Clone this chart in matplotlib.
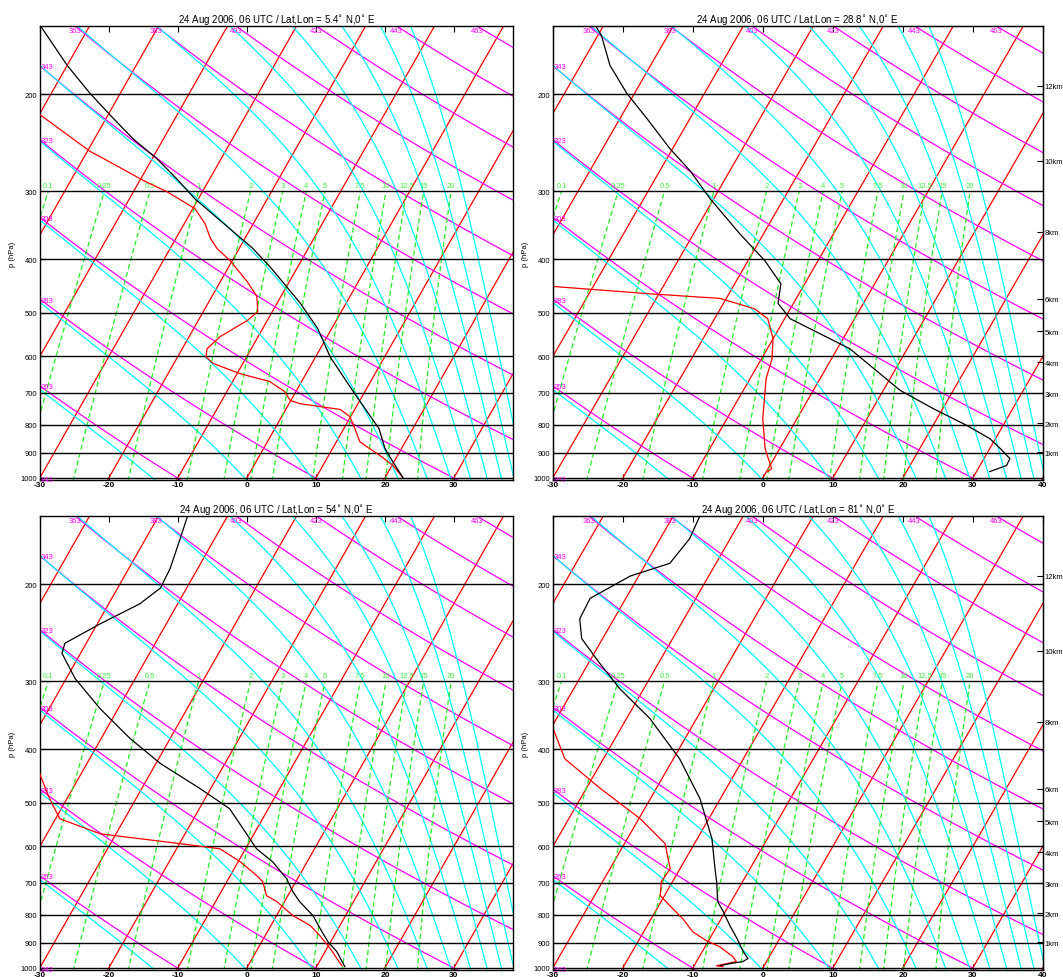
import numpy as np
import matplotlib.pyplot as plt
from matplotlib.ticker import NullLocator

plt.rcParams['font.family'] = 'Liberation Sans'

SKEW = 19.6          # horizontal shift (deg C) per unit of ln(1000/p)
P_TOP, P_BOT = 150.0, 1010.0

titles = ['24 Aug 2006, 06 UTC / Lat,Lon = 5.4$^{\\circ}$ N,0$^{\\circ}$ E',
          '24 Aug 2006, 06 UTC / Lat,Lon = 28.8$^{\\circ}$ N,0$^{\\circ}$ E',
          '24 Aug 2006, 06 UTC / Lat,Lon = 54$^{\\circ}$ N,0$^{\\circ}$ E',
          '24 Aug 2006, 06 UTC / Lat,Lon = 81$^{\\circ}$ N,0$^{\\circ}$ E']

pres_ticks = [200, 300, 400, 500, 600, 700, 800, 900, 1000]
isotherms = np.arange(-80, 50, 10)
theta_dry = [243, 263, 283, 303, 323, 343, 363, 383, 403, 423, 443, 463]
theta_e = [243, 263, 283, 303, 323, 343, 363, 383, 403, 423, 443, 463, 483]
mix_ratio = [0.1, 0.25, 0.5, 1, 2, 3, 4, 5, 7.5, 10, 12.5, 15, 20]
mix_labels = ['0.1', '0.25', '0.5', '1', '2', '3', '4', '5', '7.5', '10', '12.5', '15', '20']
height_km = [1, 2, 3, 4, 5, 6, 8, 10, 12]

# soundings: pressure (hPa) and temperature / dew point (deg C)
p_t1 = [150, 177, 199, 218, 241, 262, 285, 310, 382, 416, 481, 535, 602, 703, 814, 885, 935, 1000]
t1 = [-67.1, -60.0, -54.4, -49.7, -44.4, -39.3, -34.8, -30.5, -18.0, -13.6, -6.6, -2.0, 2.1, 8.7, 15.1, 17.6, 19.8, 22.6]
p_d1 = [218, 254, 270, 287, 301, 323, 344, 366, 382, 402, 439, 467, 498, 517, 553, 582, 602, 619,
        646, 668, 697, 723, 733, 751, 774, 814, 860, 878, 912, 951, 996]
d1 = [-59.8, -49.6, -44.5, -39.5, -35.1, -29.7, -27.0, -25.0, -23.2, -20.3, -16.1, -13.5, -12.1, -12.9,
      -15.5, -16.4, -15.9, -14.3, -9.6, -4.6, -1.6, -0.1, 1.6, 7.9, 9.9, 11.6, 13.4, 14.8, 17.5, 20.2, 22.4]

p_t2 = [150, 156, 177, 199, 221, 251, 276, 310, 359, 402, 443, 481, 513, 582, 693, 748, 803, 849, 885, 923, 950, 975]
t2 = [-61.1, -59.5, -55.8, -51.1, -46.2, -40.4, -35.6, -30.5, -23.4, -17.6, -13.4, -12.2, -9.2, 1.8,
      12.4, 18.6, 24.8, 29.2, 31.5, 33.7, 33.8, 31.9]
p_d2 = [448, 462, 471, 492, 513, 558, 607, 660, 780, 885, 963, 975]
d2 = [-45.7, -31.3, -20.9, -15.1, -12.4, -10.0, -8.5, -7.7, -4.9, -2.1, 0.5, 0.2]

p_t3 = [150, 165, 187, 203, 217, 236, 256, 267, 297, 337, 382, 424, 471, 513, 607, 641, 688, 727,
        758, 804, 849, 897, 935, 996]
t3 = [-45.8, -45.0, -44.0, -43.8, -45.5, -49.6, -53.1, -52.7, -48.7, -42.6, -35.8, -29.4, -21.6, -15.6,
      -8.4, -5.0, -1.6, 0.4, 2.2, 5.3, 7.4, 9.6, 11.7, 14.1]
p_d3 = [443, 492, 535, 570, 594, 607, 641, 679, 697, 739, 758, 804, 838, 874, 923, 963, 992]
d3 = [-46.0, -42.5, -39.4, -32.3, -19.9, -13.7, -9.7, -6.2, -4.8, -3.1, -1.1, 2.4, 5.7, 7.9, 10.5, 12.3, 13.6]

p_t4 = [150, 165, 183, 193, 212, 231, 251, 279, 310, 351, 416, 492, 582, 660, 697, 758, 790, 838,
        885, 931, 963, 975, 983, 992]
t4 = [-46.2, -45.8, -46.6, -51.2, -55.1, -54.9, -53.0, -48.3, -43.4, -36.7, -29.1, -22.9, -17.9, -15.0,
      -13.7, -11.9, -10.3, -8.2, -6.1, -4.3, -2.9, -3.4, -5.0, -6.3]
p_d4 = [366, 416, 471, 535, 594, 660, 697, 739, 771, 814, 860, 893, 916, 955, 975, 992, 996]
d4 = [-49.7, -45.5, -38.0, -29.8, -24.2, -21.4, -21.6, -20.6, -18.4, -15.5, -13.0, -10.3, -7.9, -5.2,
      -4.3, -6.8, -5.8]

soundings = [(p_t1, t1, p_d1, d1), (p_t2, t2, p_d2, d2), (p_t3, t3, p_d3, d3), (p_t4, t4, p_d4, d4)]

Rd, cp, Lv, eps = 287.04, 1005.7, 2.501e6, 0.622


def skx(T, p):
    return np.asarray(T) + SKEW * np.log(1000.0 / np.asarray(p))


def esat(tc):
    return 6.112 * np.exp(17.67 * tc / (tc + 243.5))


def thetae_1000(tc):
    tk = tc + 273.15
    r = eps * esat(tc) / (1000.0 - esat(tc)) * 1000.0
    return tk * np.exp((3.376 / tk - 0.00254) * r * (1 + 0.81e-3 * r))


def dtdp(p, tk):
    es = esat(tk - 273.15)
    rs = eps * es / (p - es)
    return (Rd * tk + Lv * rs) / (cp + Lv * Lv * rs * eps / (Rd * tk * tk)) / p


def moist_lines(te):
    te = np.asarray(te, float)
    lo, hi = np.full_like(te, -60.0), np.full_like(te, 45.0)
    for _ in range(60):
        mid = 0.5 * (lo + hi)
        big = thetae_1000(mid) > te
        hi = np.where(big, mid, hi)
        lo = np.where(big, lo, mid)
    t0 = 0.5 * (lo + hi) + 273.15
    pgrid = np.exp(np.linspace(np.log(1000.0), np.log(P_TOP - 5), 300))
    out = [t0.copy()]
    t = t0.copy()
    for i in range(len(pgrid) - 1):
        p, h = pgrid[i], pgrid[i + 1] - pgrid[i]
        k1 = dtdp(p, t)
        k2 = dtdp(p + h / 2, t + h / 2 * k1)
        k3 = dtdp(p + h / 2, t + h / 2 * k2)
        k4 = dtdp(p + h, t + h * k3)
        t = t + h / 6 * (k1 + 2 * k2 + 2 * k3 + k4)
        out.append(t.copy())
    tb = t0 + (P_BOT + 5 - 1000.0) * dtdp(1000.0, t0)
    pgrid = np.concatenate([[P_BOT + 5], pgrid])
    temps = np.vstack([tb] + out) - 273.15
    return pgrid, temps


moist_p, moist_t = moist_lines(theta_e)
fine_p = np.exp(np.linspace(np.log(P_BOT + 5), np.log(P_TOP - 5), 200))

fig = plt.figure(figsize=(10.63, 9.78), dpi=100)
positions = [[40 / 1063, 1 - 481 / 978, 473 / 1063, 454 / 978],
             [553 / 1063, 1 - 481 / 978, 490 / 1063, 454 / 978],
             [40 / 1063, 1 - 971 / 978, 473 / 1063, 454 / 978],
             [553 / 1063, 1 - 971 / 978, 490 / 1063, 454 / 978]]

for k in range(4):
    ax = fig.add_axes(positions[k])
    right = k % 2 == 1
    xmax = 40.0 if right else 38.55
    xmin = -30.0

    for t0 in isotherms:
        ax.plot(skx(t0, fine_p), fine_p, color='red', lw=0.9)

    for th in theta_dry:
        td = th * (fine_p / 1000.0) ** 0.2857 - 273.15
        xs = skx(td, fine_p)
        ax.plot(xs, fine_p, color='magenta', lw=0.9)
        xt = skx(th * (P_TOP / 1000.0) ** 0.2857 - 273.15, P_TOP)
        if xt > xmin:
            ax.text(xt, P_TOP * 1.005, str(th), color='magenta', fontsize=5.5,
                    ha='center', va='top', clip_on=False)
        else:
            pc = np.interp(xmin, xs[::-1], fine_p[::-1])
            ax.text(xmin + 0.1, pc * 1.004, str(th), color='magenta', fontsize=5.5,
                    ha='left', va='center', clip_on=False)

    for j in range(len(theta_e)):
        ax.plot(skx(moist_t[:, j], moist_p), moist_p, color='cyan', lw=0.9)

    pm = np.exp(np.linspace(np.log(P_BOT + 5), np.log(300.0), 40))
    for w, lab in zip(mix_ratio, mix_labels):
        e = w * pm / (622.0 + w)
        le = np.log(e / 6.112)
        tdw = 243.5 * le / (17.67 - le)
        ax.plot(skx(tdw, pm), pm, color='#22ee22', lw=0.9, ls=(0, (4, 2.5)))
        ax.text(skx(tdw[-1], 300.0), 297, lab, color='#44ee44', fontsize=5.5,
                ha='center', va='bottom', clip_on=False)

    for p in pres_ticks:
        ax.axhline(p, color='black', lw=1.0)

    pt, tt, pd_, dd = soundings[k]
    ax.plot(skx(dd, pd_), pd_, color='red', lw=0.9, zorder=5)
    ax.plot(skx(tt, pt), pt, color='black', lw=0.9, zorder=6)

    ax.set_yscale('log')
    ax.set_ylim(P_BOT, P_TOP)
    ax.set_xlim(xmin, xmax)
    ax.yaxis.set_minor_locator(NullLocator())
    ax.set_yticks(pres_ticks)
    ax.set_yticklabels([str(p) for p in pres_ticks], fontsize=5.5)
    xt_vals = list(range(-30, 41, 10)) if right else list(range(-30, 31, 10))
    ax.set_xticks(xt_vals)
    ax.set_xticklabels([str(v) for v in xt_vals], fontsize=6, fontweight='bold')
    ax.tick_params(axis='x', top=True, direction='in', length=4, pad=1)
    ax.tick_params(axis='y', direction='in', length=4, pad=2)
    ax.set_ylabel('p (hPa)', fontsize=5.5, labelpad=3)
    ax.set_title(titles[k], fontsize=7, pad=3)
    for s in ax.spines.values():
        s.set_linewidth(1.0)

    if right:
        ax2 = ax.twinx()
        ax2.set_yscale('log')
        ax2.set_ylim(P_BOT, P_TOP)
        ax2.yaxis.set_minor_locator(NullLocator())
        ph = [1013.25 * (1 - 2.25577e-5 * h * 1000) ** 5.25588 for h in height_km]
        ax2.set_yticks(ph)
        ax2.set_yticklabels(['%dkm' % h for h in height_km], fontsize=5.5)
        ax2.tick_params(axis='y', direction='in', length=4, pad=1)

fig.savefig('out.png', dpi=100)
